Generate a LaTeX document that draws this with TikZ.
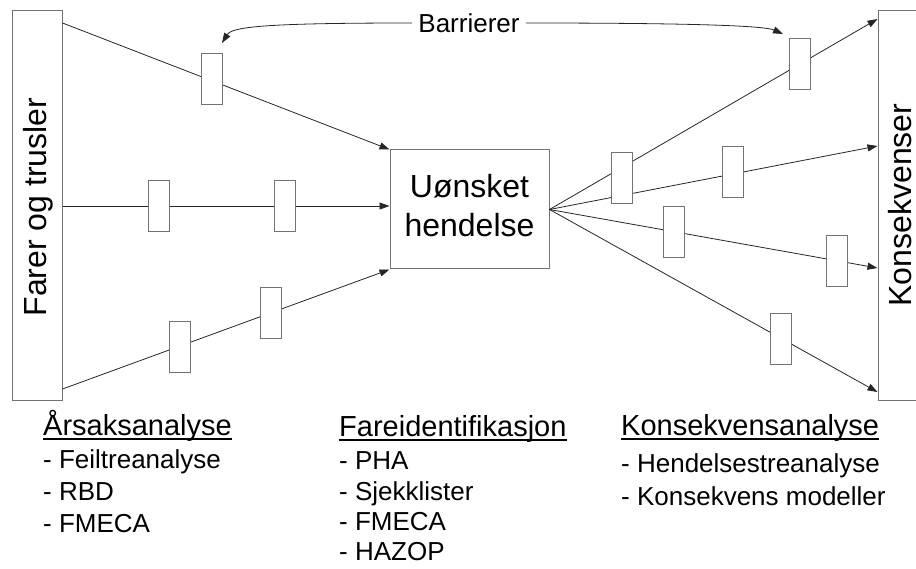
\documentclass[tikz,border=0pt]{standalone}
\usepackage{fontspec}
\setmainfont{Liberation Sans}
\usetikzlibrary{arrows.meta,positioning,calc}

\begin{document}
\begin{tikzpicture}[x=1pt,y=-1pt,
  box/.style={draw=black!55, line width=1pt, fill=white, inner sep=0pt},
  barrier/.style={box, minimum width=21pt, minimum height=51pt},
  link/.style={draw=black!85, line width=0.8pt, -{Triangle[length=10pt,width=7pt]}},
  big/.style={font=\fontsize{32}{38.4}\selectfont, inner sep=0pt},
  head/.style={font=\fontsize{29}{34}\selectfont, inner sep=0pt, anchor=base west},
  item/.style={font=\fontsize{26}{31}\selectfont, inner sep=0pt, anchor=base west}]
\useasboundingbox (0,0) rectangle (916,569);
%\draw [help lines, step=50] (0,0) grid (916,569);

% boxes
\node[box, minimum width=50pt, minimum height=389pt] (farer) at (37,205.5) {};
\node[big, rotate=90] (farertxt) at (38.5,207) {Farer og trusler};
\node[box, minimum width=50pt, minimum height=389pt] (konsek) at (903,205.5) {};
\node[big, rotate=90] (konsektxt) at (900,205) {Konsekvenser};
\node[box, big, align=center, text depth=8pt, minimum width=159pt, minimum height=119pt] (hendelse) at (469.5,209.5) {Uønsket\\hendelse};

% barrierer
\node[font=\fontsize{26}{31}\selectfont, inner sep=6pt] (barr) at (469,23) {Barrierer};
\coordinate (bl) at (222,43);
\coordinate (br) at (783,34);
\draw[link] (barr.west) .. controls (262,23) and (232,27) .. (bl);
\draw[link] (barr.east) .. controls (700,23) and (765,26) .. (br);

%1
\draw[link] (farer.east |- 0,23) -- (hendelse.north west);
%2
\draw[link] (farer.east |- 0,206) -- (hendelse.west |- 0,206);
%3
\draw[link] (farer.east |- 0,389) -- (hendelse.south west);
% fan
\foreach \y in {19,146,268,392}
  \draw[link] (hendelse.east) -- (konsek.west |- 0,\y);

\foreach \x/\y [count=\i] in {211.5/79.5, 158.5/206, 284.5/206, 180/347, 270.5/313,
    621.5/178, 799.5/64.5, 732.5/172.5, 673.5/232, 836.5/261.5, 781/339}
  \node[barrier] (bar\i) at (\x,\y) {};

% analyser
\node[head] (arsak) at (43,435) {Årsaksanalyse};
\node[item] (arsak1) at (43,468) {- Feiltreanalyse};
\node[item] (arsak2) at (43,500) {- RBD};
\node[item] (arsak3) at (43,532) {- FMECA};

\node[head] (fare) at (339,436) {Fareidentifikasjon};
\node[item] (fare1) at (339,469) {- PHA};
\node[item] (fare2) at (339,500) {- Sjekklister};
\node[item] (fare3) at (339,530) {- FMECA};
\node[item] (fare4) at (339,560) {- HAZOP};

\node[head] (kons) at (621,435) {Konsekvensanalyse};
\node[item] (kons1) at (621,472) {- Hendelsestreanalyse};
\node[item] (kons2) at (621,505) {- Konsekvens modeller};

\foreach \n in {arsak,fare,kons}
  \draw[line width=1.4pt] ($(\n.base west)+(0,4)$) -- ($(\n.base east)+(0,4)$);
\end{tikzpicture}
\end{document}
